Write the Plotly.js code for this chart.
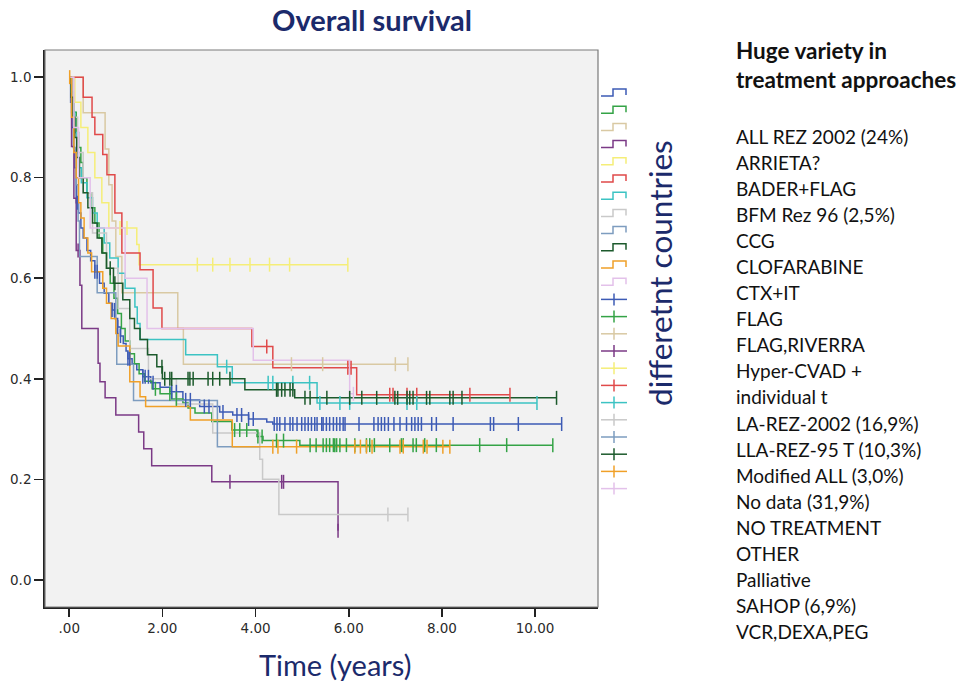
<!DOCTYPE html>
<html><head><meta charset="utf-8">
<script src="https://cdn.plot.ly/plotly-3.0.1.min.js"></script>
<style>html,body{margin:0;padding:0;background:#fff;}#chart{width:960px;height:681px;}</style>
</head><body><div id="chart"></div>
<script>
// ---- data ----
const groupColors = ['#3d5bb5','#34a346','#d9c9a3','#7b3a86','#f5ee78','#e04a4a','#3cc3c3','#c9c9c9','#7d9cbf','#1c5a2c','#f0a028','#e3c1ea'];

const blueT = [0,0.03,0.06,0.09,0.12,0.15,0.2,0.25,0.3,0.38,0.46,0.55,0.65,0.75,0.85,0.92,0.98,1.04,1.1,1.16,1.22,1.26,1.35,1.45,1.58,1.75,1.95,2.16,2.44,2.8,3.23,3.51,3.85,4.24,4.37];
const blueS = [1,0.95,0.9,0.86,0.82,0.75,0.73,0.7,0.68,0.655,0.635,0.613,0.59,0.57,0.55,0.537,0.52,0.503,0.485,0.47,0.455,0.44,0.43,0.418,0.404,0.392,0.383,0.374,0.358,0.345,0.334,0.328,0.32,0.314,0.31];
const blueEnd = 10.57;
const blueC = [0.17,0.55,0.6,0.92,0.97,1.04,1.1,1.26,1.3,1.58,1.63,1.7,1.8,2.2,2.3,2.5,2.6,2.9,3.0,3.3,3.6,3.7,3.85,3.95,4.4,4.46,4.52,4.63,4.74,4.8,4.89,4.99,5.06,5.13,5.2,5.27,5.32,5.42,5.45,5.52,5.59,5.67,5.74,5.81,5.88,5.92,6.22,6.54,6.63,6.7,6.77,6.85,6.97,7.1,7.24,7.35,7.42,7.49,7.56,7.78,7.88,8.24,9.04,9.11,9.64,10.57];

const greenT = [0,0.05,0.1,0.15,0.2,0.25,0.3,0.38,0.46,0.55,0.64,0.72,0.8,0.88,0.96,1.04,1.12,1.2,1.3,1.4,1.5,1.62,1.78,1.95,2.2,2.44,2.55,2.7,3.06,3.49,4.03,4.16,4.95];
const greenS = [1,0.97,0.93,0.89,0.86,0.83,0.8,0.77,0.74,0.71,0.68,0.65,0.62,0.59,0.56,0.53,0.5,0.475,0.45,0.43,0.41,0.395,0.38,0.37,0.36,0.352,0.342,0.332,0.315,0.298,0.285,0.277,0.268];
const greenEnd = 10.38;
const greenC = [1.85,2.16,2.3,3.55,3.66,3.81,4.05,4.14,4.45,4.6,5.17,5.3,5.45,5.52,5.59,5.67,5.7,5.74,5.81,5.95,6.13,6.38,6.45,6.55,6.88,7.13,7.17,7.38,7.45,7.63,7.88,8.81,9.39,10.38];

const beigeT = [0,0.3,0.77,0.85,0.92,1.0,1.13,2.33,2.45];
const beigeS = [1,0.929,0.857,0.786,0.714,0.643,0.571,0.5,0.429];
const beigeEnd = 7.27;
const beigeC = [4.77,5.44,7.0,7.27];

const purpleT = [0,0.05,0.1,0.15,0.23,0.27,0.62,0.66,0.77,1.0,1.49,1.6,1.77,3.06,5.77];
const purpleS = [1,0.862,0.759,0.655,0.586,0.5,0.431,0.394,0.362,0.328,0.294,0.261,0.227,0.195,0.0975];
const purpleEnd = 5.77;
const purpleC = [0.19,3.45,4.56,4.6,5.77];

const yellowT = [0,0.12,0.25,0.4,0.55,0.7,0.85,1.45,1.5];
const yellowS = [1,0.95,0.9,0.85,0.8,0.75,0.7,0.667,0.627];
const yellowEnd = 5.98;
const yellowC = [1.09,1.24,2.75,3.08,3.45,3.88,4.3,4.73,5.98];

const redT = [0,0.3,0.49,0.55,0.72,0.81,0.98,1.13,1.52,1.8,1.99,3.92,4.37,6.17];
const redS = [1,0.96,0.92,0.886,0.846,0.806,0.73,0.65,0.617,0.541,0.5,0.464,0.422,0.368];
const redEnd = 9.46;
const redC = [4.24,5.98,6.05,6.88,6.95,7.25,7.46,8.6,9.46];

const tealT = [0,0.04,0.08,0.12,0.16,0.2,0.26,0.38,0.5,0.6,0.75,0.87,1.05,1.2,1.41,1.46,1.52,2.5,3.18,3.5,5.32];
const tealS = [1,0.97,0.93,0.89,0.85,0.82,0.79,0.76,0.73,0.7,0.67,0.64,0.61,0.58,0.543,0.51,0.478,0.448,0.424,0.392,0.352];
const tealEnd = 10.04;
const tealC = [3.38,4.27,4.37,4.8,5.16,5.38,5.81,6.02,7.25,7.46,10.04];

const grayT = [0,0.08,0.18,0.3,0.5,0.8,1.05,1.3,1.7,2.3,3.08,4.09,4.15,4.5];
const grayS = [1,0.92,0.85,0.77,0.69,0.62,0.54,0.46,0.4,0.35,0.292,0.24,0.2,0.13];
const grayEnd = 7.27;
const grayC = [6.84,7.27];

const steelT = [0,0.05,0.1,0.15,0.19,0.22,0.6,1.0,1.02,1.38,3.18];
const steelS = [1,0.929,0.857,0.786,0.714,0.643,0.571,0.5,0.429,0.357,0.265];
const steelEnd = 4.1;
const steelC = [];

const dgreenT = [0,0.04,0.08,0.12,0.16,0.22,0.3,0.4,0.5,0.6,0.7,0.8,0.95,1.15,1.3,1.4,1.52,1.68,1.88,2.0,3.77,4.84];
const dgreenS = [1,0.96,0.92,0.88,0.84,0.8,0.77,0.74,0.71,0.68,0.65,0.62,0.59,0.557,0.52,0.5,0.478,0.448,0.424,0.4,0.378,0.362];
const dgreenEnd = 10.46;
const dgreenC = [0.88,0.98,1.99,2.05,2.16,2.2,2.55,2.59,2.66,2.98,3.08,3.23,3.45,4.45,4.48,4.56,4.63,4.74,4.8,5.06,5.17,5.53,6.02,6.28,6.6,6.99,7.05,7.25,7.31,7.38,7.67,7.74,8.17,8.24,8.43,10.46];

const orangeT = [0,0.05,0.1,0.15,0.2,0.25,0.32,0.4,0.48,0.72,0.8,0.9,1.0,1.05,1.3,1.52,1.64,2.6,3.5];
const orangeS = [1,0.92,0.85,0.8,0.75,0.72,0.68,0.65,0.613,0.58,0.55,0.52,0.49,0.465,0.394,0.364,0.345,0.318,0.265];
const orangeEnd = 8.17;
const orangeC = [0.01,4.37,4.48,4.88,6.13,6.25,6.38,6.5,7.1,7.17,7.6,7.68,8.02,8.17];

const lavT = [0,0.1,0.2,0.45,1.2,1.67,3.95,6.02];
const lavS = [1,0.9,0.8,0.7,0.6,0.5,0.437,0.37];
const lavEnd = 6.1;
const lavC = [6.1];

const xTickVals = [0,2,4,6,8,10];
const xTickText = ['.00','2.00','4.00','6.00','8.00','10.00'];
const yTickVals = [0,0.2,0.4,0.6,0.8,1.0];
const yTickText = ['0.0','0.2','0.4','0.6','0.8','1.0'];

const chartTitle = 'Overall survival';
const xTitle = 'Time (years)';
const sideTitle = 'differetnt countries';
const headLines = ['Huge variety in','treatment approaches'];
const listItems = ['ALL REZ 2002 (24%)','ARRIETA?','BADER+FLAG','BFM Rez 96 (2,5%)','CCG','CLOFARABINE','CTX+IT','FLAG','FLAG,RIVERRA','Hyper-CVAD +','individual t','LA-REZ-2002 (16,9%)','LLA-REZ-95 T (10,3%)','Modified ALL (3,0%)','No data (31,9%)','NO TREATMENT','OTHER','Palliative','SAHOP (6,9%)','VCR,DEXA,PEG'];

// ---- build ----
const groups = [
  [blueT,blueS,blueEnd,blueC],[greenT,greenS,greenEnd,greenC],[beigeT,beigeS,beigeEnd,beigeC],
  [purpleT,purpleS,purpleEnd,purpleC],[yellowT,yellowS,yellowEnd,yellowC],[redT,redS,redEnd,redC],
  [tealT,tealS,tealEnd,tealC],[grayT,grayS,grayEnd,grayC],[steelT,steelS,steelEnd,steelC],
  [dgreenT,dgreenS,dgreenEnd,dgreenC],[orangeT,orangeS,orangeEnd,orangeC],[lavT,lavS,lavEnd,lavC]
];
function survAt(T,S,t){let v=S[0];for(let i=0;i<T.length;i++){if(T[i]<=t+1e-9)v=S[i];}return v;}
const traces=[];
groups.forEach((g,i)=>{
  const [T,S,E,C]=g; const col=groupColors[i];
  traces.push({x:T.concat([E]),y:S.concat([S[S.length-1]]),mode:'lines',line:{shape:'hv',color:col,width:1.5},hoverinfo:'skip',showlegend:false});
});
groups.forEach((g,i)=>{
  const [T,S,E,C]=g; const col=groupColors[i];
  if(C.length) traces.push({x:C,y:C.map(t=>survAt(T,S,t)),mode:'markers',marker:{symbol:'line-ns',size:10,color:col,line:{color:col,width:1.5}},hoverinfo:'skip',showlegend:false});
});

// pixel helpers for decorations
const L=45,R=598,T0=50,B=607;
const px=x=>(x-L)/(R-L), py=y=>(B-y)/(B-T0);

const shapes=[{type:'rect',xref:'paper',yref:'paper',x0:0,x1:1,y0:0,y1:1,line:{color:'#7a7a7a',width:1.2},fillcolor:'rgba(0,0,0,0)'}];
for(let k=0;k<24;k++){
  const yc=93+k*17.2; const col=groupColors[k%12];
  if(k<12){
    shapes.push({type:'path',xref:'paper',yref:'paper',path:`M${px(601)},${py(yc+3)} L${px(613)},${py(yc+3)} L${px(613)},${py(yc-4)} L${px(626)},${py(yc-4)} L${px(626)},${py(yc+2)}`,line:{color:col,width:1.5}});
  } else {
    shapes.push({type:'line',xref:'paper',yref:'paper',x0:px(601),x1:px(627),y0:py(yc),y1:py(yc),line:{color:col,width:1.5}});
    shapes.push({type:'line',xref:'paper',yref:'paper',x0:px(614),x1:px(614),y0:py(yc-6),y1:py(yc+6),line:{color:col,width:1.5}});
  }
}

const navy='#1b2a6b';
const ann=[];
ann.push({text:'<b>'+chartTitle+'</b>',xref:'paper',yref:'paper',x:px(372),y:py(1),showarrow:false,xanchor:'center',yanchor:'top',borderpad:0,font:{family:'Lato',size:29,color:navy}});
ann.push({text:xTitle,xref:'paper',yref:'paper',x:px(335),y:py(664),showarrow:false,xanchor:'center',yanchor:'middle',font:{family:'Lato',size:29,color:navy}});
ann.push({text:sideTitle,xref:'paper',yref:'paper',x:px(660),y:py(273),showarrow:false,textangle:-90,xanchor:'center',yanchor:'middle',font:{family:'Lato',size:31.5,color:navy}});
headLines.forEach((t,i)=>ann.push({text:'<b>'+t+'</b>',xref:'paper',yref:'paper',x:px(734),y:py(50+i*29),showarrow:false,xanchor:'left',yanchor:'middle',font:{family:'Lato',size:22.5,color:'#111'}}));
listItems.forEach((t,i)=>ann.push({text:t,xref:'paper',yref:'paper',x:px(734),y:py(136+i*26.1),showarrow:false,xanchor:'left',yanchor:'middle',font:{family:'Lato',size:19,color:'#111'}}));

const layout={
  width:960,height:681,
  margin:{l:L,r:960-R,t:T0,b:681-B},
  paper_bgcolor:'#ffffff',plot_bgcolor:'#f2f2f2',
  showlegend:false,
  xaxis:{range:[-0.52,11.35],tickvals:xTickVals,ticktext:xTickText,ticks:'outside',ticklen:8,tickwidth:1.5,tickcolor:'#222',showline:true,linecolor:'#222',linewidth:1.8,showgrid:false,zeroline:false,tickfont:{family:'DejaVu Sans',size:13.5,color:'#2a2a2a'}},
  yaxis:{range:[-0.054,1.054],tickvals:yTickVals,ticktext:yTickText,ticks:'outside',ticklen:9,tickwidth:1.5,tickcolor:'#222',showline:true,linecolor:'#222',linewidth:1.8,showgrid:false,zeroline:false,tickfont:{family:'DejaVu Sans',size:13.5,color:'#2a2a2a'}},
  shapes:shapes,annotations:ann
};
Plotly.newPlot('chart',traces,layout,{displayModeBar:false,staticPlot:true});
</script>
</body></html>
